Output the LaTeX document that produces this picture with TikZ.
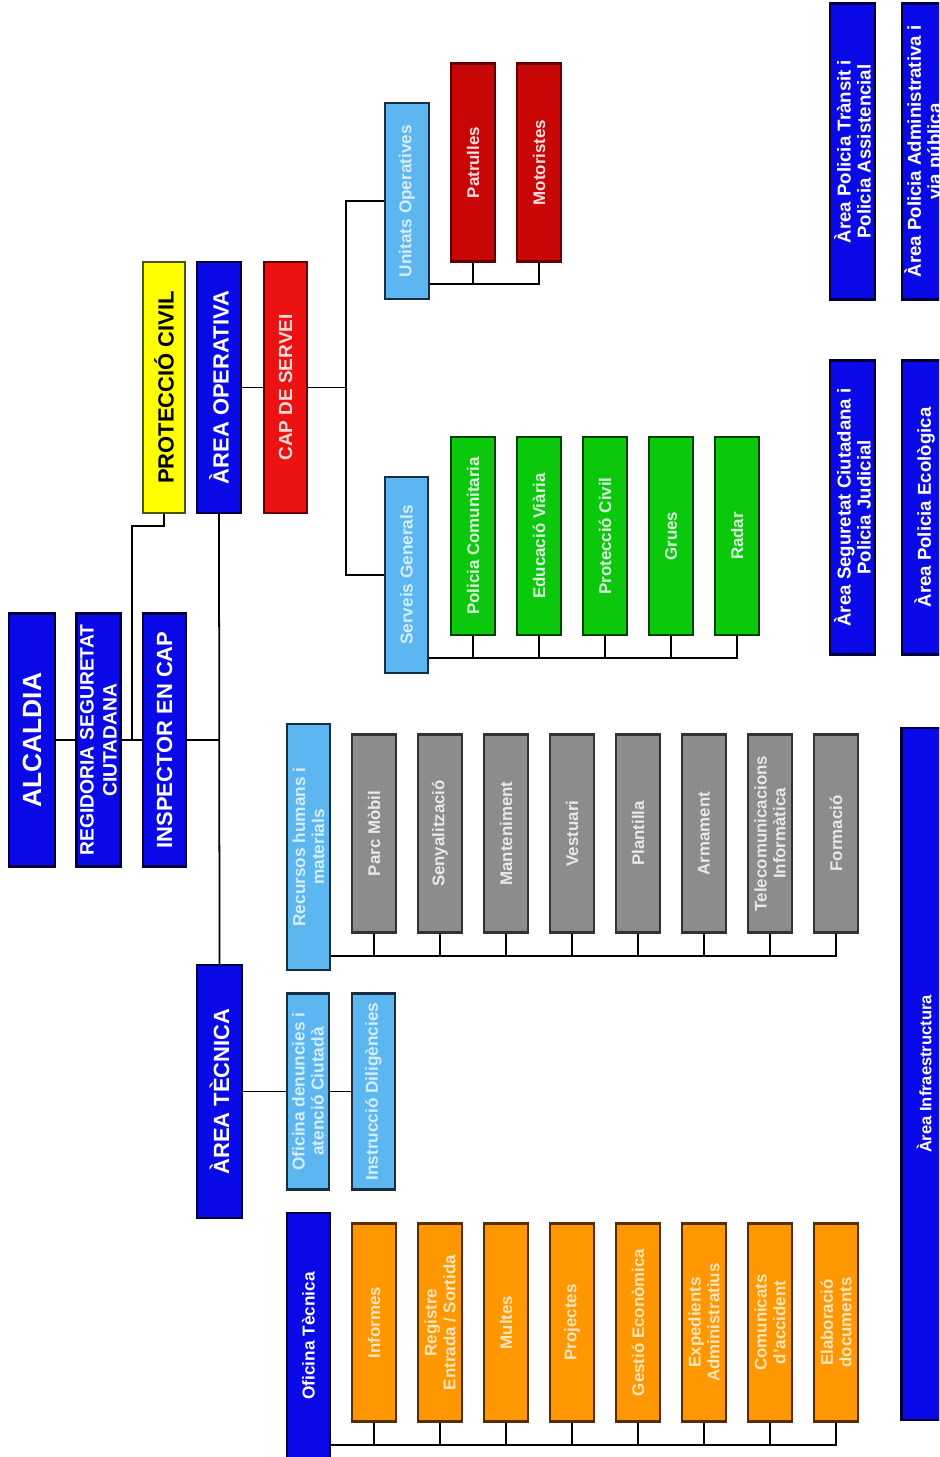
\documentclass[tikz,border=0pt]{standalone}
\usepackage{fontspec}
\setmainfont{Liberation Sans}
\definecolor{orgblue}{RGB}{10,10,232}
\definecolor{orgnavy}{RGB}{0,0,60}
\definecolor{orgyellow}{RGB}{255,255,0}
\definecolor{orgolive}{RGB}{80,80,20}
\definecolor{orgred}{RGB}{236,18,18}
\definecolor{orgdarkred}{RGB}{200,6,6}
\definecolor{orgmaroon}{RGB}{100,0,0}
\definecolor{orgsky}{RGB}{92,182,240}
\definecolor{orgslate}{RGB}{25,45,65}
\definecolor{orggreen}{RGB}{12,200,12}
\definecolor{orgforest}{RGB}{0,65,0}
\definecolor{orggray}{RGB}{140,140,140}
\definecolor{orgcoal}{RGB}{50,50,50}
\definecolor{orgorange}{RGB}{255,152,0}
\definecolor{orgbrown}{RGB}{90,45,0}
\usepackage{tikz}

\begin{document}
\begin{tikzpicture}[x=0.2mm, y=-0.2mm,
  box/.style={rectangle, rotate=90, inner sep=0pt, line width=1.4pt, align=center},
  bbox/.style={box, draw=orgnavy, fill=orgblue, text=white,
               minimum width=50.6mm, minimum height=8.8mm,
               font=\fontsize{12.5}{14}\selectfont\bfseries},
  sbox/.style={box, draw=orgslate, fill=orgsky, text=orgsky!25!white,
               minimum width=39.2mm, minimum height=8.6mm,
               font=\fontsize{9.8}{10.8}\selectfont\bfseries},
  ubox/.style={box, minimum width=39.6mm, minimum height=8.8mm,
               font=\fontsize{9.6}{10.6}\selectfont\bfseries},
  rbox/.style={ubox, draw=orgmaroon, fill=orgdarkred, text=orgred!15!white},
  gbox/.style={ubox, draw=orgforest, fill=orggreen, text=orggreen!15!white},
  ybox/.style={ubox, draw=orgcoal, fill=orggray, text=orggray!20!white},
  obox/.style={ubox, draw=orgbrown, fill=orgorange, text=orgorange!25!white},
  abox/.style={box, draw=orgnavy, fill=orgblue, text=white,
               minimum width=59.2mm, minimum height=9mm,
               font=\fontsize{10.6}{11.4}\selectfont\bfseries},
  conn/.style={draw=black, line width=1pt}
]
\useasboundingbox (0,0) rectangle (939,1457);
\clip (0,0) rectangle (939,1457);

% Top of the chart
\node[bbox, minimum height=9.2mm, font=\fontsize{15}{17}\selectfont\bfseries] (alc) at (32,740) {ALCALDIA};
\node[bbox, font=\fontsize{11}{13}\selectfont\bfseries] (regid) at (98.5,740) {REGIDORIA SEGURETAT\\CIUTADANA};
\node[bbox, minimum height=8.6mm] (insp) at (164.5,740) {INSPECTOR EN CAP};

\node[bbox, minimum width=50.2mm, minimum height=8.4mm, draw=orgolive, fill=orgyellow, text=black] (pciv) at (164,387.5) {PROTECCIÓ CIVIL};
\node[bbox, minimum width=50.2mm] (aop) at (219,387.5) {ÀREA OPERATIVA};
\node[bbox, minimum width=50.2mm, minimum height=8.6mm, draw=orgmaroon, fill=orgred, text=orgred!15!white,
      font=\fontsize{10.8}{13}\selectfont\bfseries] (cap) at (285.5,387.5) {CAP DE SERVEI};
\node[bbox, minimum height=9mm] (atec) at (219.5,1091.5) {ÀREA TÈCNICA};

% Services
\node[sbox, minimum height=8.8mm] (unit) at (407,201) {Unitats Operatives};
\node[sbox] (serv) at (406.5,575) {Serveis Generals};
\node[sbox, minimum width=49.2mm] (recs) at (308.5,847) {Recursos humans i\\materials};
\node[sbox, minimum height=8.4mm] (oden) at (308,1091.5) {Oficina denuncies i\\atenció Ciutadà};
\node[sbox] (instr) at (373.5,1091.5) {Instrucció Diligències};
\node[bbox, minimum width=49.2mm, minimum height=8.6mm, font=\fontsize{9.8}{10.8}\selectfont\bfseries] (ofit) at (308.5,1336) {Oficina Tècnica};

% Units
\node[rbox] (rpat) at (473,162.5) {Patrulles};
\node[rbox] (rmot) at (539,162.5) {Motoristes};

\node[gbox] (gpol) at (473,536) {Policia Comunitaria};
\node[gbox] (gedu) at (539,536) {Educació Viària};
\node[gbox] (gpro) at (605,536) {Protecció Civil};
\node[gbox] (ggru) at (671,536) {Grues};
\node[gbox] (grad) at (737,536) {Radar};

\node[ybox] (ypar) at (374,833.5) {Parc Mòbil};
\node[ybox] (ysen) at (440,833.5) {Senyalització};
\node[ybox] (yman) at (506,833.5) {Manteniment};
\node[ybox] (yves) at (572,833.5) {Vestuari};
\node[ybox] (ypla) at (638,833.5) {Plantilla};
\node[ybox] (yarm) at (704,833.5) {Armament};
\node[ybox] (ytel) at (770,833.5) {Telecomunicacions\\Informàtica};
\node[ybox] (yfor) at (836,833.5) {Formació};

\node[obox] (oinf) at (374,1322.5) {Informes};
\node[obox] (oreg) at (440,1322.5) {Registre\\Entrada / Sortida};
\node[obox] (omul) at (506,1322.5) {Multes};
\node[obox] (opro) at (572,1322.5) {Projectes};
\node[obox] (oges) at (638,1322.5) {Gestió Econòmica};
\node[obox] (oexp) at (704,1322.5) {Expedients\\Administratius};
\node[obox] (ocom) at (770,1322.5) {Comunicats\\d'accident};
\node[obox] (oela) at (836,1322.5) {Elaboració\\documents};

% Areas
\node[abox] (atra) at (852.5,151.5) {Àrea Policia Trànsit i\\Policia Assistencial};
\node[abox] (aadm) at (924.5,151.5) {Àrea Policia Administrativa i\\via pública};
\node[abox, minimum width=58.8mm] (aseg) at (852.5,507.5) {Àrea Seguretat Ciutadana i\\Policia Judicial};
\node[abox, minimum width=58.8mm] (aeco) at (924.5,507.5) {Àrea Policia Ecològica};
\node[abox, minimum width=138.4mm, font=\fontsize{9.4}{10.4}\selectfont\bfseries] (ainf) at (924,1074) {Àrea Infraestructura};

% Connectors
\coordinate (jpc) at (132,740);
\draw[conn] (alc.south) -- (regid.north);
\draw[conn] (regid.south) -- (insp.north);
\draw[conn] (insp.south) -- (aop.west |- insp.south);
\draw[conn] (aop.west) -- (atec.east);
\draw[conn] (pciv.west) -- ++(0,12) -| (jpc);
\draw[conn] (aop.south) -- (cap.north);
\draw[conn] (cap.south) -- ++(38,0) coordinate (jcap);
\draw[conn] (unit.north) -| (jcap) |- (serv.north);
\draw[conn] (atec.south) -- (oden.north);
\draw[conn] (oden.south) -- (instr.north);

\draw[conn] (rpat.west) -- ++(0,21) coordinate (rb);
\draw[conn] (unit.south |- rb) -| (rmot.west);

\draw[conn] (gpol.west) -- ++(0,22) coordinate (gb);
\draw[conn] (serv.south |- gb) -| (grad.west);
\draw[conn] (gedu.west) -- (gedu.west |- gb) (gpro.west) -- (gpro.west |- gb)
            (ggru.west) -- (ggru.west |- gb);

\draw[conn] (ypar.west) -- ++(0,22) coordinate (yb);
\draw[conn] (recs.south |- yb) -| (yfor.west);
\draw[conn] (ysen.west) -- (ysen.west |- yb) (yman.west) -- (yman.west |- yb)
            (yves.west) -- (yves.west |- yb) (ypla.west) -- (ypla.west |- yb)
            (yarm.west) -- (yarm.west |- yb) (ytel.west) -- (ytel.west |- yb);

\draw[conn] (oinf.west) -- ++(0,22) coordinate (ob);
\draw[conn] (ofit.south |- ob) -| (oela.west);
\draw[conn] (oreg.west) -- (oreg.west |- ob) (omul.west) -- (omul.west |- ob)
            (opro.west) -- (opro.west |- ob) (oges.west) -- (oges.west |- ob)
            (oexp.west) -- (oexp.west |- ob) (ocom.west) -- (ocom.west |- ob);
\end{tikzpicture}
\end{document}
